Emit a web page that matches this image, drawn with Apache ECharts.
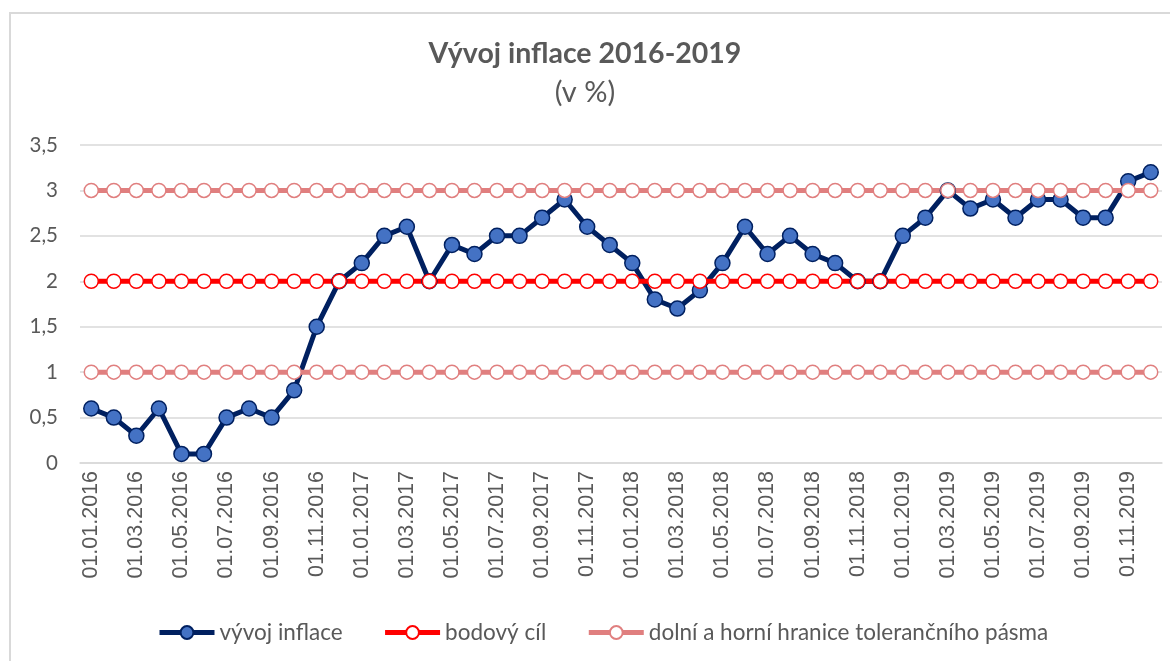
<!DOCTYPE html>
<html>
<head>
<meta charset="utf-8">
<script src="https://cdn.jsdelivr.net/npm/echarts@6/dist/echarts.min.js"></script>
<style>
  html, body { margin: 0; padding: 0; background: #fff; }
  #frame { position: absolute; left: 9px; top: 12px; width: 1200px; height: 700px;
           border-left: 2px solid #d9d9d9; border-top: 2px solid #d9d9d9; }
  #charts { position: absolute; left: 0; top: 0; width: 1170px; height: 661px; }
</style>
</head>
<body>
<div id="frame"></div>
<div id="charts"></div>
<script>
// mesice 2016-2019
var months = [
  '01.01.2016','01.02.2016','01.03.2016','01.04.2016','01.05.2016','01.06.2016',
  '01.07.2016','01.08.2016','01.09.2016','01.10.2016','01.11.2016','01.12.2016',
  '01.01.2017','01.02.2017','01.03.2017','01.04.2017','01.05.2017','01.06.2017',
  '01.07.2017','01.08.2017','01.09.2017','01.10.2017','01.11.2017','01.12.2017',
  '01.01.2018','01.02.2018','01.03.2018','01.04.2018','01.05.2018','01.06.2018',
  '01.07.2018','01.08.2018','01.09.2018','01.10.2018','01.11.2018','01.12.2018',
  '01.01.2019','01.02.2019','01.03.2019','01.04.2019','01.05.2019','01.06.2019',
  '01.07.2019','01.08.2019','01.09.2019','01.10.2019','01.11.2019','01.12.2019'
];
var inflace = [
  0.6, 0.5, 0.3, 0.6, 0.1, 0.1, 0.5, 0.6, 0.5, 0.8, 1.5, 2.0,
  2.2, 2.5, 2.6, 2.0, 2.4, 2.3, 2.5, 2.5, 2.7, 2.9, 2.6, 2.4,
  2.2, 1.8, 1.7, 1.9, 2.2, 2.6, 2.3, 2.5, 2.3, 2.2, 2.0, 2.0,
  2.5, 2.7, 3.0, 2.8, 2.9, 2.7, 2.9, 2.9, 2.7, 2.7, 3.1, 3.2
];
var cil = [
  2, 2, 2, 2, 2, 2, 2, 2, 2, 2, 2, 2,
  2, 2, 2, 2, 2, 2, 2, 2, 2, 2, 2, 2,
  2, 2, 2, 2, 2, 2, 2, 2, 2, 2, 2, 2,
  2, 2, 2, 2, 2, 2, 2, 2, 2, 2, 2, 2
];
var horni = [
  3, 3, 3, 3, 3, 3, 3, 3, 3, 3, 3, 3,
  3, 3, 3, 3, 3, 3, 3, 3, 3, 3, 3, 3,
  3, 3, 3, 3, 3, 3, 3, 3, 3, 3, 3, 3,
  3, 3, 3, 3, 3, 3, 3, 3, 3, 3, 3, 3
];
var dolni = [
  1, 1, 1, 1, 1, 1, 1, 1, 1, 1, 1, 1,
  1, 1, 1, 1, 1, 1, 1, 1, 1, 1, 1, 1,
  1, 1, 1, 1, 1, 1, 1, 1, 1, 1, 1, 1,
  1, 1, 1, 1, 1, 1, 1, 1, 1, 1, 1, 1
];

var pasmo = 'dolní a horní hranice tolerančního pásma';
var grey = '#595959';

function pasmoSeries(data) {
  return {
    name: pasmo,
    type: 'line',
    data: data,
    symbol: 'circle',
    symbolSize: 14,
    showAllSymbol: true,
    lineStyle: { color: '#e07f7f', width: 5 },
    itemStyle: { color: '#fff', borderColor: '#e07f7f', borderWidth: 1.5 }
  };
}

var echart = echarts.init(document.getElementById('charts'));
var options = {
  animation: false,
  title: [
    { text: 'Vývoj inflace 2016-2019', left: 'center', top: 34,
      textStyle: { fontFamily: 'Lato', fontSize: 28.5, fontWeight: 'bold', color: grey } },
    { text: '(v %)', left: 'center', top: 73,
      textStyle: { fontFamily: 'Lato', fontSize: 29, fontWeight: 'normal', color: grey } }
  ],
  legend: {
    top: 616,
    left: 152,
    itemWidth: 55,
    itemHeight: 16,
    itemGap: 40,
    lineStyle: { width: 5 },
    textStyle: { fontFamily: 'Lato', fontSize: 22.5, color: grey },
    data: ['vývoj inflace', 'bodový cíl', pasmo]
  },
  grid: { left: 80, right: 8, top: 145, bottom: 198, containLabel: false },
  xAxis: {
    type: 'category',
    data: months,
    boundaryGap: true,
    axisLine: { lineStyle: { color: '#d9d9d9', width: 1.5 } },
    axisTick: { interval: 1, length: 6, lineStyle: { color: '#d9d9d9', width: 1.5 } },
    axisLabel: { interval: 1, rotate: 90, margin: 8,
      fontFamily: 'Liberation Sans', fontSize: 21.5, color: grey },
    splitLine: { show: false }
  },
  yAxis: {
    type: 'value',
    min: 0,
    max: 3.5,
    interval: 0.5,
    axisLine: { show: false },
    axisTick: { show: false },
    axisLabel: { margin: 22, fontFamily: 'Lato', fontSize: 20.5, color: grey,
      formatter: function (v) { return String(v).replace('.', ','); } },
    splitLine: { lineStyle: { color: '#d9d9d9', width: 1.5 } }
  },
  series: [
    {
      name: 'vývoj inflace',
      type: 'line',
      data: inflace,
      symbol: 'circle',
      symbolSize: 15,
      showAllSymbol: true,
      lineStyle: { color: '#002060', width: 5 },
      itemStyle: { color: '#4472c4', borderColor: '#002060', borderWidth: 1.5 }
    },
    {
      name: 'bodový cíl',
      type: 'line',
      data: cil,
      symbol: 'circle',
      symbolSize: 14,
      showAllSymbol: true,
      lineStyle: { color: '#ff0000', width: 5 },
      itemStyle: { color: '#fff', borderColor: '#ff0000', borderWidth: 1.5 }
    },
    pasmoSeries(horni),
    pasmoSeries(dolni)
  ]
};
echart.setOption(options);
</script>
</body>
</html>
